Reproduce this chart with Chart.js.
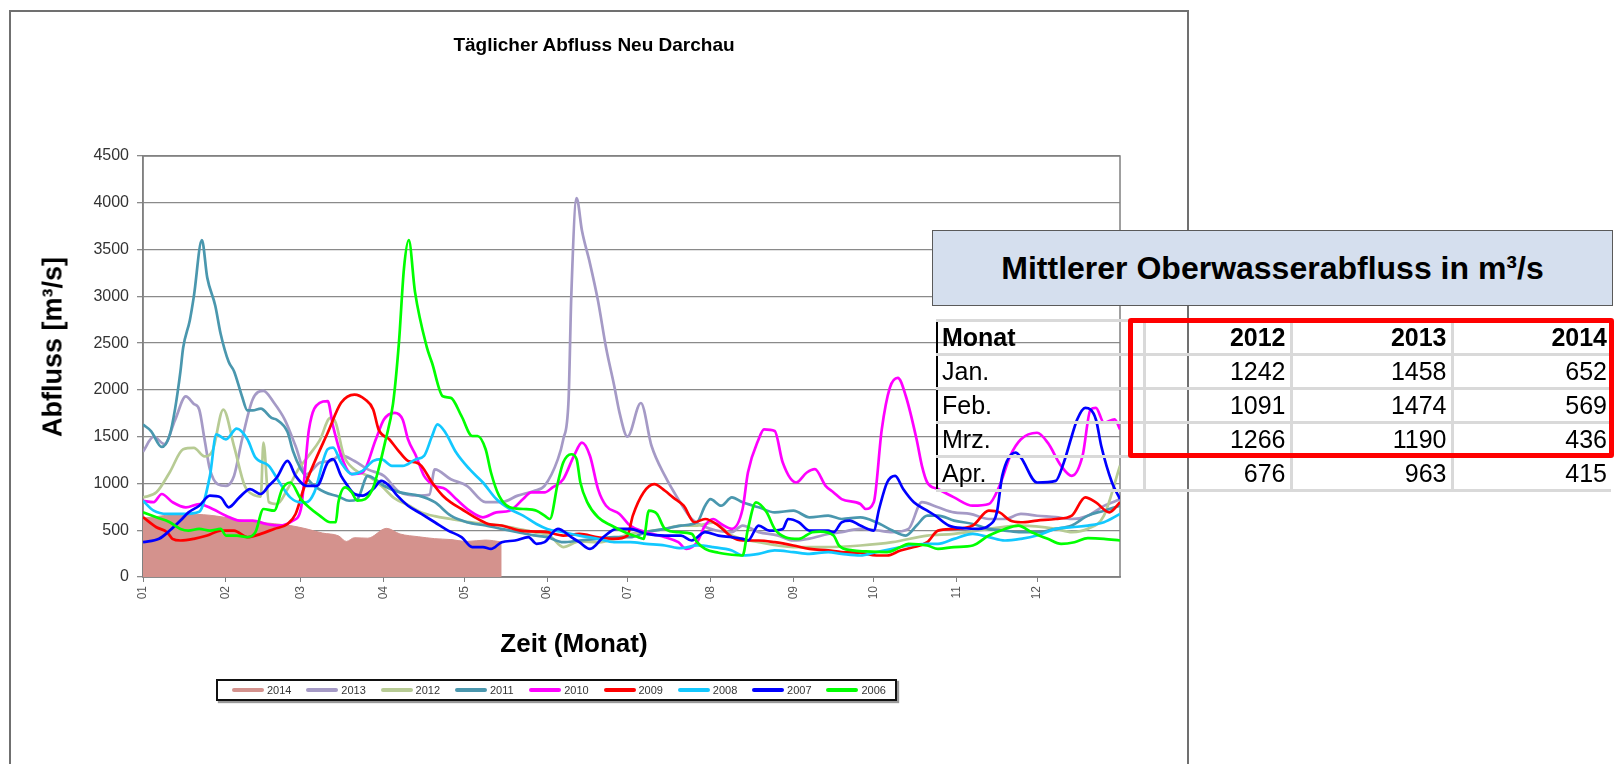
<!DOCTYPE html>
<html lang="de">
<head>
<meta charset="utf-8">
<title>Täglicher Abfluss Neu Darchau</title>
<script src="https://cdn.jsdelivr.net/npm/chart.js"></script>
<style>
  html, body { margin: 0; padding: 0; background: #fff; width: 1618px; height: 764px; overflow: hidden;
               font-family: "Liberation Sans", Arial, sans-serif; }
  #frame { position: absolute; left: 9px; top: 10px; width: 1176px; height: 800px;
           border: 2px solid #707070; border-bottom: none; }
  #chart { position: absolute; left: 0; top: 0; }
  .lbl { position: absolute; transform: translate(-50%, -50%); font-weight: bold; line-height: 1;
         white-space: nowrap; color: #000; }
  #title { left: 594px; top: 44px; font-size: 19px; }
  #xtitle { left: 574px; top: 643px; font-size: 26px; }
  #ytitle { left: 53px; top: 347px; font-size: 27px; transform: translate(-50%, -50%) rotate(-90deg); }
  #legend { position: absolute; left: 216px; top: 679px; width: 681px; height: 22px; box-sizing: border-box;
            border: 2px solid #111; box-shadow: 2px 2px 1px #999; background: #fff; }
  #legend .item { position: absolute; top: 0; height: 18px; display: flex; align-items: center;
                  font-size: 11px; color: #333; }
  #legend .swatch { display: inline-block; width: 32px; height: 4px; border-radius: 2px; margin-right: 3px; }
  #tableHead { position: absolute; left: 932px; top: 230px; width: 681px; height: 76px; box-sizing: border-box;
               border: 1.5px solid #5a5a5a; background: #D5DFEE; display: flex; align-items: center;
               justify-content: center; font-weight: bold; font-size: 32px; }
  #meanTable { position: absolute; left: 936px; top: 319px; width: 674px; border-collapse: collapse;
               table-layout: fixed; font-size: 25px; line-height: 1; color: #000; }
  #meanTable td { border-top: 3px solid #d9d9d9; border-bottom: 3px solid #d9d9d9; padding: 0 4px; height: 31px; }
  #meanTable td.m { border-left: 2px solid #000; text-align: left; }
  #meanTable td.n { text-align: right; border-left: 3px solid #d9d9d9; }
  #redBox { position: absolute; left: 1128px; top: 318px; width: 486px; height: 140px; box-sizing: border-box;
            border: 5px solid #ff0000; border-radius: 3px; }
</style>
</head>
<body>
<div id="frame"></div>
<canvas id="chart" width="1618" height="764"></canvas>
<div id="title" class="lbl">Täglicher Abfluss Neu Darchau</div>
<div id="ytitle" class="lbl">Abfluss [m³/s]</div>
<div id="xtitle" class="lbl">Zeit (Monat)</div>
<div id="legend"></div>
<div id="tableHead">Mittlerer Oberwasserabfluss in m³/s</div>
<table id="meanTable">
  <colgroup><col style="width:184px"><col style="width:23px"><col style="width:147px"><col style="width:161px"><col style="width:159px"></colgroup>
  <tbody id="meanBody"></tbody>
</table>
<div id="redBox"></div>

<script>
// x axis: day of year, ticks at first day of each month
const monthStarts = [0, 31, 59, 90, 120, 151, 181, 212, 243, 273, 304, 334];
const monthLabels = ["01", "02", "03", "04", "05", "06", "07", "08", "09", "10", "11", "12"];

// daily discharge Neu Darchau [m3/s] (day of year / value)
const days2014 = [0, 5, 10, 15, 20, 25, 30, 36, 42, 49, 55, 61, 67, 73, 76, 79, 84, 91, 96, 103, 109, 115, 121, 128, 134];
const flow2014 = [630, 645, 665, 675, 670, 660, 640, 610, 590, 570, 550, 515, 470, 440, 380, 420, 415, 520, 460, 430, 410, 400, 380, 395, 375];

const days2013 = [0, 4, 8, 12, 16, 19, 21, 23, 25, 28, 31, 34, 37, 41, 45, 49, 53, 57, 61, 66, 70, 74, 79, 84, 90, 96, 103, 107, 109, 115, 121, 128, 134, 140, 146, 150, 155, 157, 159, 160, 162, 164, 167, 170, 173, 176, 178, 181, 186, 190, 195, 200, 205, 212, 220, 224, 230, 237, 243, 249, 256, 261, 268, 274, 280, 286, 291, 297, 303, 309, 316, 322, 328, 334, 341, 347, 353, 359, 365];
const flow2013 = [1340, 1500, 1420, 1680, 1930, 1850, 1790, 1470, 1150, 990, 975, 1080, 1470, 1900, 1990, 1860, 1680, 1400, 1100, 1220, 1240, 1300, 1240, 1150, 1080, 905, 870, 880, 1150, 1045, 975, 800, 800, 870, 920, 975, 1260, 1470, 1900, 3000, 4050, 3700, 3350, 2950, 2450, 2050, 1760, 1500, 1860, 1400, 1080, 830, 620, 515, 480, 550, 480, 445, 390, 410, 460, 480, 515, 500, 480, 515, 800, 745, 690, 675, 620, 620, 675, 655, 640, 620, 655, 760, 830];

const days2012 = [0, 5, 10, 15, 19, 23, 26, 30, 34, 38, 42, 44, 45, 47, 50, 54, 58, 62, 66, 70, 72, 75, 79, 84, 89, 94, 99, 104, 109, 115, 121, 128, 134, 140, 146, 152, 157, 163, 170, 182, 195, 201, 207, 213, 220, 230, 243, 255, 268, 280, 293, 303, 316, 328, 341, 347, 353, 359, 365];
const flow2012 = [850, 905, 1120, 1365, 1380, 1290, 1350, 1790, 1400, 975, 870, 860, 1436, 800, 780, 940, 1150, 1300, 1460, 1700, 1650, 1300, 1150, 1080, 975, 840, 770, 690, 650, 620, 590, 567, 550, 515, 480, 440, 320, 380, 370, 460, 515, 550, 550, 580, 443, 372, 320, 320, 337, 372, 443, 460, 515, 550, 515, 480, 515, 655, 1190];

const days2011 = [0, 3, 7, 10, 12, 14, 15, 17.5, 19, 22, 24, 27, 29, 32, 34, 37, 39, 41, 44, 48, 50, 54, 56, 59, 63, 68, 73, 77, 80, 84, 87, 90, 96, 103, 109, 115, 121, 128, 134, 140, 146, 151, 157, 163, 170, 176, 182, 188, 195, 201, 207, 210, 212, 216, 220, 224, 230, 236, 243, 249, 256, 261, 268, 274, 280, 285, 289, 293, 297, 303, 310, 316, 322, 328, 334, 341, 347, 353, 359, 365];
const flow2011 = [1630, 1560, 1390, 1520, 1800, 2200, 2450, 2745, 3000, 3600, 3200, 2900, 2600, 2300, 2200, 1930, 1780, 1780, 1800, 1700, 1680, 1550, 1350, 1150, 1000, 905, 860, 815, 830, 1080, 1040, 975, 905, 870, 800, 655, 585, 550, 515, 480, 445, 426, 372, 390, 408, 426, 426, 479, 514, 550, 585, 762, 833, 762, 851, 798, 745, 691, 709, 638, 656, 620, 638, 585, 496, 443, 550, 656, 656, 603, 567, 514, 496, 479, 479, 514, 550, 656, 709, 762];

const days2010 = [0, 4, 7, 11, 16, 21, 26, 31, 36, 41, 46, 51, 56, 59, 62, 66, 69, 71, 75, 78, 82, 87, 90, 94, 97, 99, 102, 105, 109, 113, 117, 122, 127, 132, 137, 142, 145, 150, 153, 157, 161, 164, 167, 170, 173, 178, 182, 186, 190, 195, 200, 203, 207, 210, 213, 216, 220, 224, 226, 230, 232, 236, 239, 244, 248, 251, 255, 258, 261, 268, 270, 273, 276, 279, 282, 285, 289, 291, 293, 297, 303, 310, 316, 320, 324, 328, 334, 338, 343, 347, 351, 354, 356, 359, 363, 365];
const flow2010 = [815, 800, 887, 800, 745, 780, 727, 655, 603, 603, 567, 550, 603, 727, 1578, 1862, 1880, 1613, 1223, 1100, 1117, 1472, 1684, 1755, 1684, 1472, 1294, 1081, 975, 940, 833, 709, 638, 690, 709, 833, 904, 904, 957, 1046, 1294, 1436, 1294, 940, 762, 674, 550, 496, 461, 426, 372, 300, 372, 550, 620, 567, 515, 727, 1117, 1472, 1578, 1560, 1223, 1010, 1117, 1152, 975, 904, 833, 780, 727, 798, 1578, 2021, 2128, 1932, 1472, 1188, 1010, 940, 851, 762, 780, 975, 1294, 1472, 1542, 1436, 1188, 1081, 1294, 1791, 1808, 1649, 1684, 1578];

const days2009 = [0, 5, 9, 11, 14, 19, 24, 29, 34, 39, 44, 49, 54, 57, 60, 64, 69, 74, 79, 83, 86, 88, 92, 95, 99, 102, 104, 108, 112, 115, 119, 124, 129, 134, 141, 147, 151, 157, 163, 170, 176, 181, 183, 187, 191, 195, 198, 202, 206, 210, 215, 220, 224, 230, 236, 243, 249, 256, 261, 268, 274, 278, 283, 288, 293, 297, 303, 310, 316, 320, 324, 328, 334, 341, 347, 352, 356, 361, 365];
const flow2009 = [640, 532, 479, 408, 390, 408, 443, 496, 496, 425, 461, 514, 567, 674, 940, 1223, 1542, 1862, 1950, 1897, 1791, 1578, 1472, 1365, 1241, 1223, 1188, 1010, 869, 798, 727, 638, 567, 550, 496, 486, 479, 443, 461, 425, 408, 443, 656, 904, 993, 922, 851, 762, 585, 620, 550, 426, 390, 390, 372, 337, 300, 284, 266, 259, 230, 230, 284, 320, 372, 496, 514, 550, 709, 691, 603, 585, 603, 620, 656, 851, 798, 691, 798];

const days2008 = [0, 4, 9, 15, 21, 25, 27.4, 31, 35, 39, 42, 47, 51, 55, 59, 61, 64, 69, 71, 74, 78, 82, 86, 89, 93, 97, 102, 105, 108, 110, 113, 117, 122, 127, 132, 137, 142, 147, 151, 157, 163, 170, 176, 182, 188, 195, 201, 207, 213, 220, 224, 230, 236, 243, 249, 256, 261, 268, 274, 280, 286, 293, 297, 303, 310, 316, 322, 328, 334, 341, 347, 353, 359, 365];
const flow2008 = [815, 709, 674, 674, 698, 1081, 1525, 1472, 1585, 1472, 1277, 1188, 1010, 851, 798, 798, 904, 1365, 1383, 1223, 1100, 1135, 1241, 1259, 1188, 1188, 1259, 1294, 1507, 1631, 1542, 1330, 1152, 1010, 833, 727, 656, 567, 514, 479, 443, 408, 372, 372, 355, 337, 308, 337, 320, 284, 230, 248, 284, 266, 248, 266, 248, 230, 266, 300, 337, 355, 355, 408, 461, 426, 390, 408, 443, 514, 532, 550, 585, 674];

const days2007 = [0, 6, 10, 14, 17, 21, 25, 29, 32, 36, 40, 44, 47, 50, 54, 57, 61, 65, 69, 71, 74, 76, 79, 82, 86, 89, 92, 95, 99, 104, 109, 114, 119, 123, 127, 130, 134, 139, 144, 147, 150, 155, 160, 163, 167, 172, 177, 182, 188, 195, 201, 205, 210, 215, 220, 224, 226, 230, 234, 239, 241, 245, 249, 256, 258, 261, 264, 268, 273, 275, 278, 281, 284, 288, 293, 296, 301, 307, 312, 316, 319, 321, 326, 328, 334, 341, 344, 347, 349, 352, 356, 358, 362, 365];
const flow2007 = [372, 408, 496, 603, 691, 762, 869, 851, 745, 851, 940, 887, 975, 1064, 1241, 1081, 975, 975, 1223, 1259, 1081, 993, 887, 869, 940, 1028, 975, 869, 762, 674, 585, 496, 426, 320, 320, 300, 372, 390, 426, 355, 372, 514, 426, 372, 300, 426, 514, 514, 461, 443, 443, 390, 479, 443, 426, 408, 390, 550, 496, 514, 620, 585, 496, 496, 479, 585, 603, 550, 496, 727, 1010, 1081, 940, 798, 709, 656, 550, 521, 514, 550, 691, 1081, 1330, 1276, 1010, 1028, 1223, 1507, 1684, 1808, 1684, 1400, 1010, 833];

const days2006 = [0, 5, 10, 14, 17, 21, 25, 29, 31, 35, 39, 42, 45, 49, 52, 55, 59, 62, 66, 70, 72, 73, 75.5, 78, 80, 83, 86, 88, 90.4, 93.4, 95.6, 97.5, 99.3, 101.6, 106, 108, 112, 115, 119, 123, 125, 128, 130, 133, 137, 142, 147, 150, 152, 155, 157, 160, 162, 163.4, 166, 170, 175, 180, 185, 187, 189, 192, 195, 200, 205, 207, 210, 215, 220, 224, 226, 229, 233, 236, 240, 245, 250, 253, 258, 260, 265, 270, 278, 283, 286, 293, 297, 303, 310, 316, 322, 327, 332, 338, 343, 348, 353, 359, 365];
const flow2006 = [691, 638, 585, 514, 496, 514, 496, 514, 443, 443, 426, 479, 727, 709, 940, 1010, 833, 745, 656, 585, 585, 798, 957, 904, 816, 833, 957, 1152, 1436, 1850, 2500, 3300, 3600, 3050, 2460, 2287, 1932, 1915, 1720, 1507, 1507, 1365, 1117, 869, 745, 727, 709, 656, 620, 1010, 1223, 1312, 1259, 1010, 798, 638, 550, 479, 426, 408, 709, 674, 514, 479, 461, 372, 300, 259, 238, 230, 514, 798, 691, 514, 426, 408, 479, 486, 443, 337, 284, 273, 266, 320, 355, 337, 300, 320, 337, 443, 514, 550, 479, 408, 355, 372, 415, 408, 390];

// table: mean discharge per month
const tableMonths = ["Jan.", "Feb.", "Mrz.", "Apr."];
const tableYears = ["2012", "2013", "2014"];
const mean2012 = [1242, 1091, 1266, 676];
const mean2013 = [1458, 1474, 1190, 963];
const mean2014 = [652, 569, 436, 415];

const series = [
    { label: "2014", days: days2014, flow: flow2014, color: "#D4928D" },
    { label: "2013", days: days2013, flow: flow2013, color: "#A59AC6" },
    { label: "2012", days: days2012, flow: flow2012, color: "#B7CB94" },
    { label: "2011", days: days2011, flow: flow2011, color: "#4A97AE" },
    { label: "2010", days: days2010, flow: flow2010, color: "#FF00FF" },
    { label: "2009", days: days2009, flow: flow2009, color: "#FF0000" },
    { label: "2008", days: days2008, flow: flow2008, color: "#12C8FF" },
    { label: "2007", days: days2007, flow: flow2007, color: "#0000FF" },
    { label: "2006", days: days2006, flow: flow2006, color: "#00FF00" }
];

const datasets = series.map((s, i) => ({
    label: s.label,
    data: s.days.map((d, k) => ({ x: d, y: s.flow[k] })),
    borderColor: s.color,
    backgroundColor: s.color,
    borderWidth: s.label === "2014" ? 1 : 2.7,
    fill: s.label === "2014" ? "origin" : false,
    pointRadius: 0,
    cubicInterpolationMode: "monotone",
    order: series.length - 1 - i // 2014 at the bottom, 2006 on top
}));

// grey box round the plot area
const plotBox = {
    id: "plotBox",
    beforeDatasetsDraw(chart) {
        const { ctx, chartArea: a } = chart;
        ctx.save();
        ctx.strokeStyle = "#808080";
        ctx.lineWidth = 1.5;
        ctx.strokeRect(a.left, a.top, a.right - a.left, a.bottom - a.top);
        ctx.restore();
    }
};

new Chart(document.getElementById("chart"), {
    type: "line",
    data: { datasets },
    options: {
        responsive: false,
        animation: false,
        devicePixelRatio: 1,
        layout: { padding: { left: 83, right: 498, top: 156, bottom: 157 } },
        plugins: {
            legend: { display: false },
            title: { display: false },
            tooltip: { enabled: false }
        },
        scales: {
            x: {
                type: "linear",
                min: 0,
                max: 365,
                afterBuildTicks: scale => {
                    scale.ticks = monthStarts.map(v => ({ value: v }));
                },
                afterFit: scale => { scale.height = 30; },
                ticks: {
                    autoSkip: false,
                    minRotation: 90,
                    maxRotation: 90,
                    padding: 4,
                    color: "#555",
                    font: { family: "Liberation Sans", size: 12 },
                    callback: v => monthLabels[monthStarts.indexOf(v)]
                },
                grid: { drawOnChartArea: false, tickLength: 5, color: "#808080" },
                border: { color: "#808080", width: 1.5 }
            },
            y: {
                min: 0,
                max: 4500,
                afterFit: scale => { scale.width = 60; },
                ticks: {
                    stepSize: 500,
                    padding: 8,
                    color: "#333",
                    font: { family: "Liberation Sans", size: 16 },
                    callback: v => String(v)
                },
                grid: { color: "#8a8a8a", lineWidth: 1.3, tickLength: 6 },
                border: { color: "#808080", width: 1.5 }
            }
        }
    },
    plugins: [plotBox]
});

// legend
const legend = document.getElementById("legend");
series.forEach((s, i) => {
    const item = document.createElement("div");
    item.className = "item";
    item.style.left = (14 + i * 74.3) + "px";
    item.innerHTML = `<span class="swatch" style="background:${s.color}"></span><span>${s.label}</span>`;
    legend.appendChild(item);
});

// table
const means = [mean2012, mean2013, mean2014];
let rows = `<tr><td class="m"><b>Monat</b></td><td></td>` +
    tableYears.map(y => `<td class="n"><b>${y}</b></td>`).join("") + `</tr>`;
tableMonths.forEach((m, i) => {
    rows += `<tr><td class="m">${m}</td><td></td>` +
        means.map(col => `<td class="n">${col[i]}</td>`).join("") + `</tr>`;
});
document.getElementById("meanBody").innerHTML = rows;
</script>
</body>
</html>
